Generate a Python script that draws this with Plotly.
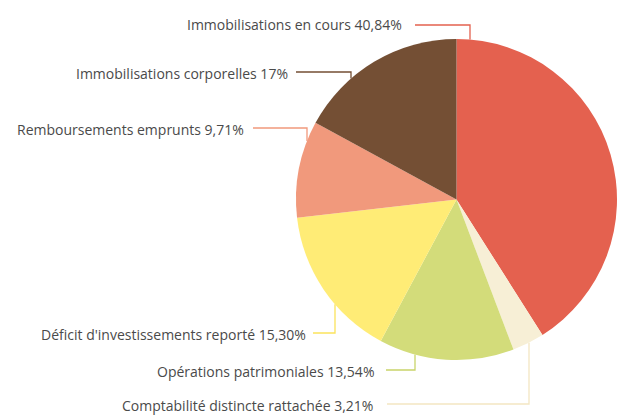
import math
import plotly.graph_objects as go

# ---- data ----
categories = [
    "Immobilisations en cours",
    "Comptabilité distincte rattachée",
    "Opérations patrimoniales",
    "Déficit d'investissements reporté",
    "Remboursements emprunts",
    "Immobilisations corporelles",
]
values = [40.84, 3.21, 13.54, 15.30, 9.71, 17]
colors = ["#E4614F", "#F7EFD6", "#D3DC7A", "#FFEC76", "#F1997C", "#744F34"]
line_colors = ["#E4614F", "#F3E6C2", "#C9D46A", "#FBE35C", "#F1997C", "#744F34"]

W, H = 617, 415

# ---- layout (pixel positions of labels) ----
label_end_x = [404, 375, 376, 308, 246, 290]
label_y = [24, 405, 371, 334, 129, 73]
line_start_x = [415, 387, 386, 313, 253, 296]
line_y = [25, 404, 370, 333, 128, 72]
elbow_x = [470, 529, 415, 335, 307, 351]
side = [-1, 1, 1, 1, -1, -1]  # -1: line goes down to pie top half, 1: up to bottom half


def fmt(v):
    if float(v).is_integer():
        return f"{int(v)}%"
    return f"{v:.2f}".replace(".", ",") + "%"


# pie geometry (pixels)
dom_x = [296 / W, 1.0]
cy_px = 199.5
r_req = 161.5
dom_y = [1 - (cy_px + r_req) / H, 1 - (cy_px - r_req) / H]
w_px = (dom_x[1] - dom_x[0]) * W
h_px = (dom_y[1] - dom_y[0]) * H
R = min(w_px, h_px) / 2
cx_px = (dom_x[0] + dom_x[1]) / 2 * W

fig = go.Figure(
    go.Pie(
        labels=categories,
        values=values,
        marker=dict(colors=colors, line=dict(width=0)),
        sort=False,
        direction="clockwise",
        rotation=0,
        textinfo="none",
        hoverinfo="label+percent",
        showlegend=False,
        domain=dict(x=dom_x, y=dom_y),
    )
)

px2x = lambda p: p / W
px2y = lambda p: 1 - p / H

annotations = []
shapes = []
for i, cat in enumerate(categories):
    annotations.append(
        dict(
            x=px2x(label_end_x[i]), y=px2y(label_y[i]),
            xref="paper", yref="paper",
            xanchor="right", yanchor="middle",
            text=f"{cat} {fmt(values[i])}",
            showarrow=False,
            font=dict(family="Open Sans", size=14, color="#4A4A4A"),
        )
    )
    ex = elbow_x[i]
    dy = math.sqrt(max(R * R - (ex - cx_px) ** 2, 0))
    ey = cy_px + side[i] * dy
    path = (
        f"M {px2x(line_start_x[i])},{px2y(line_y[i])} "
        f"L {px2x(ex)},{px2y(line_y[i])} L {px2x(ex)},{px2y(ey)}"
    )
    shapes.append(
        dict(type="path", path=path, xref="paper", yref="paper",
             line=dict(color=line_colors[i], width=1.3), layer="below")
    )

fig.update_layout(
    width=W, height=H,
    margin=dict(l=0, r=0, t=0, b=0),
    paper_bgcolor="white",
    plot_bgcolor="white",
    annotations=annotations,
    shapes=shapes,
)

fig.write_html(
    "out.html",
    config={"displayModeBar": False},
    post_script="document.body.style.margin='0px';document.body.style.overflow='hidden';",
)
